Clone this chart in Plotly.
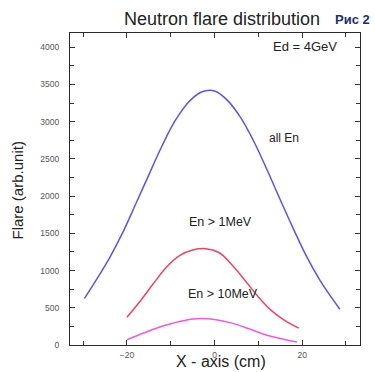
import plotly.graph_objects as go

# Data
x_all = [-29.7, -27, -24, -21, -18, -15, -12, -9, -6, -3, 0,
         3, 6, 9, 12, 15, 18, 21, 24, 27, 28.6]
y_all = [627, 875, 1168, 1505, 1893, 2285, 2672, 3012, 3258, 3398, 3412,
         3282, 3050, 2730, 2350, 1950, 1560, 1190, 875, 612, 480]

x_1mev = [-20, -17, -14, -11, -8, -5, -2, 1, 4, 7, 10, 13, 16, 19.2]
y_1mev = [373, 588, 822, 1045, 1200, 1275, 1293, 1242, 1074, 864, 645, 462, 330, 227]

x_10mev = [-20, -16, -12, -8, -4, 0, 4, 8, 12, 16, 18.8]
y_10mev = [71, 165, 251, 317, 353, 342, 294, 214, 131, 75, 40]

FONT = "Liberation Sans, Arial, sans-serif"

fig = go.Figure()
fig.add_trace(go.Scatter(x=x_all, y=y_all, mode="lines",
                         line=dict(color="#5a55e8", width=1.5, shape="spline", smoothing=1.1)))
fig.add_trace(go.Scatter(x=x_1mev, y=y_1mev, mode="lines",
                         line=dict(color="#ec4468", width=1.5, shape="spline", smoothing=1.1)))
fig.add_trace(go.Scatter(x=x_10mev, y=y_10mev, mode="lines",
                         line=dict(color="#f25ad8", width=1.5, shape="spline", smoothing=1.1)))

axis_common = dict(showline=True, linecolor="#2a2a2a", linewidth=1.2, mirror="allticks",
                   ticks="inside", ticklen=5, tickcolor="#333333", showgrid=False, zeroline=False,
                   tickfont=dict(family=FONT, size=8.5, color="#555555"))

fig.update_xaxes(range=[-33, 33.2], tick0=0, dtick=20,
                 minor=dict(ticks="inside", dtick=10, ticklen=4, tickcolor="#333333"),
                 ticklabelstandoff=2, **axis_common)
fig.update_yaxes(range=[0, 4190], tick0=0, dtick=500,
                 minor=dict(ticks="inside", dtick=250, ticklen=4, tickcolor="#333333"),
                 ticklabelstandoff=8, **axis_common)

annots = [
    dict(text="Neutron flare distribution", x=222, y=19,
         font=dict(family=FONT, size=18, color="#222222")),
    dict(text="<b>Рис 2</b>", x=352, y=19,
         font=dict(family=FONT, size=13, color="#1a2f7a")),
    dict(text="Ed = 4GeV", x=305, y=47,
         font=dict(family=FONT, size=13, color="#222222")),
    dict(text="all En", x=284, y=139,
         font=dict(family=FONT, size=12, color="#222222")),
    dict(text="En &gt; 1MeV", x=220, y=224,
         font=dict(family=FONT, size=12.5, color="#222222")),
    dict(text="En &gt; 10MeV", x=223, y=297,
         font=dict(family=FONT, size=12.5, color="#222222")),
    dict(text="X - axis (cm)", x=221, y=365,
         font=dict(family=FONT, size=16, color="#222222")),
    dict(text="Flare (arb.unit)", x=17, y=192, textangle=-90,
         font=dict(family=FONT, size=15, color="#222222")),
]

# convert pixel positions of labels into paper coordinates
W, H = 375, 372
L, R, T, B = 70, 15, 33, 24
pw, ph = W - L - R, H - T - B
for a in annots:
    a["xref"] = "paper"
    a["yref"] = "paper"
    a["x"] = (a["x"] - L) / pw
    a["y"] = (H - B - a["y"]) / ph
    a["xanchor"] = "center"
    a["yanchor"] = "middle"
    a["showarrow"] = False

fig.update_layout(width=W, height=H, margin=dict(l=L, r=R, t=T, b=B),
                  plot_bgcolor="white", paper_bgcolor="white", showlegend=False,
                  annotations=annots)

fig.write_html("out.html", config={"displayModeBar": False},
               post_script="document.body.style.margin='0';")
